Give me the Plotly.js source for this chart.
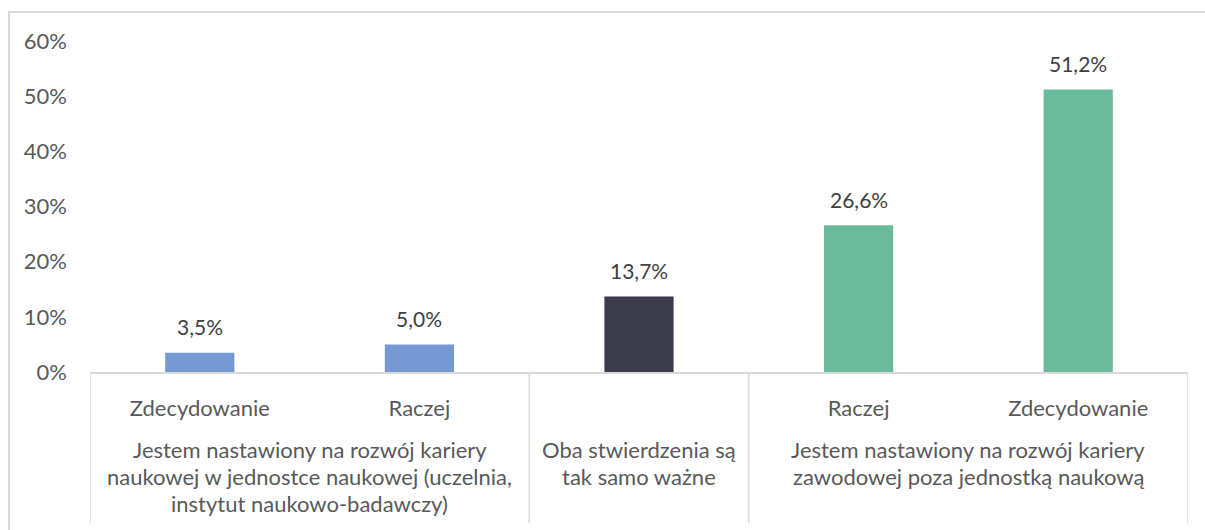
<!DOCTYPE html>
<html>
<head>
<meta charset="utf-8">
<script src="https://cdn.plot.ly/plotly-3.0.1.min.js"></script>
<style>
  html, body { margin: 0; padding: 0; background: #ffffff; overflow: hidden; }
  #chart { width: 1205px; height: 530px; }
  #frame { position: absolute; left: 8px; top: 11px; width: 1400px; height: 700px;
           border: 2px solid #d9d9d9; pointer-events: none; box-sizing: border-box; }
</style>
</head>
<body>
<div id="chart"></div>
<div id="frame"></div>
<script>
// ---- Data ----
const subLabels = ["Zdecydowanie", "Raczej", "", "Raczej", "Zdecydowanie"];
const values = [3.5, 5.0, 13.7, 26.6, 51.2];
const barColors = ["#7799d3", "#7799d3", "#3c3b4b", "#69bb9b", "#69bb9b"];
const groupLines = [
  ["Jestem nastawiony na rozwój kariery", "naukowej w jednostce naukowej (uczelnia,", "instytut naukowo-badawczy)"],
  ["Oba stwierdzenia są", "tak samo ważne"],
  ["Jestem nastawiony na rozwój kariery", "zawodowej poza jednostką naukową"]
];
const groupMembers = [[0, 1], [2, 2], [3, 4]];   // first and last bar index of each group
const yTicks = [0, 10, 20, 30, 40, 50, 60];

// ---- Derived ----
const xPos = values.map((v, i) => i);
const FONT = "Lato, 'Open Sans', sans-serif";
const plotTop = 41, plotBottom = 372, plotH = plotBottom - plotTop;
const py = Y => (plotBottom - Y) / plotH;   // pixel row -> paper y
const lineRows = [449, 476, 503];

const annotations = [];
// data labels
values.forEach((v, i) => {
  annotations.push({
    x: xPos[i], y: v, xref: "x", yref: "y",
    text: v.toFixed(1).replace(".", ",") + "%",
    showarrow: false, yanchor: "middle", yshift: 26,
    font: { family: FONT, size: 21, color: "#404040" }
  });
});
// group labels
groupLines.forEach((lines, g) => {
  const cx = (groupMembers[g][0] + groupMembers[g][1]) / 2;
  lines.forEach((t, k) => {
    annotations.push({
      x: cx, y: py(lineRows[k]), xref: "x", yref: "paper",
      text: t, showarrow: false, yanchor: "middle", xanchor: "center",
      font: { family: FONT, size: 22, color: "#595959" }
    });
  });
});

// dividers at group boundaries
const bounds = [groupMembers[0][0] - 0.5].concat(groupMembers.map(m => m[1] + 0.5));
const shapes = bounds.map(b => ({
  type: "line", xref: "x", yref: "paper",
  x0: b, x1: b, y0: 0, y1: py(523),
  line: { color: "#d9d9d9", width: 1.5 }
}));

const trace = {
  type: "bar",
  x: xPos,
  y: values,
  marker: { color: barColors },
  width: 0.315,
  hoverinfo: "skip"
};

const layout = {
  width: 1205,
  height: 530,
  margin: { l: 90, r: 17, t: plotTop, b: 530 - plotBottom },
  paper_bgcolor: "#ffffff",
  plot_bgcolor: "#ffffff",
  showlegend: false,
  font: { family: FONT, size: 22, color: "#595959" },
  xaxis: {
    range: [-0.5, 4.5],
    tickvals: xPos,
    ticktext: subLabels,
    showline: true,
    linecolor: "#d9d9d9",
    linewidth: 1.5,
    ticks: "",
    showgrid: false,
    zeroline: false,
    ticklabelstandoff: 16,
    tickfont: { family: FONT, size: 22, color: "#595959" },
    fixedrange: true
  },
  yaxis: {
    range: [0, 60],
    tickvals: yTicks,
    ticktext: yTicks.map(t => t + "%"),
    showgrid: false,
    zeroline: false,
    showline: false,
    ticks: "",
    ticklabelstandoff: 22,
    tickfont: { family: FONT, size: 22, color: "#595959" },
    fixedrange: true
  },
  annotations: annotations,
  shapes: shapes
};

Plotly.newPlot("chart", [trace], layout, { displayModeBar: false, staticPlot: true });
</script>
</body>
</html>
